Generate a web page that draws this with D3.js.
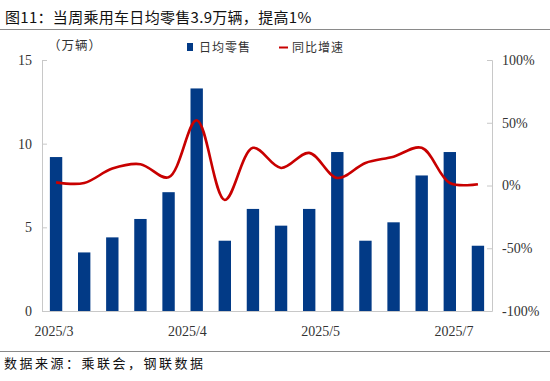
<!DOCTYPE html>
<html><head><meta charset="utf-8">
<script src="https://cdn.jsdelivr.net/npm/d3@7"></script>
<style>body{margin:0;background:#fff}svg{display:block}</style>
</head><body>
<svg id="c" width="550" height="381"></svg>
<script>
const categories = d3.range(1,17).map(i=>"W"+i);
const dailyRetail = [9.2,3.5,4.4,5.5,7.1,13.3,4.2,6.1,5.1,6.1,9.5,4.2,5.3,8.1,9.5,3.9];
const yoyGrowth = [2.5,2,13.5,17,6.5,52,-11.5,30,14,26,6,18,23,30,2,1];
const xTickLabels = ["2025/3","2025/4","2025/5","2025/7"];
const leftTicks = [0,5,10,15];
const rightTicks = [-100,-50,0,50,100];

const svg = d3.select("#c");
const L=42,R=492,T=60,B=311;
const serif = "'Liberation Serif','Times New Roman',serif";
const cjk = "'Noto Sans CJK SC','Noto Sans',sans-serif";

// title
svg.append("text").attr("x",5).attr("y",23).attr("font-family",cjk).attr("font-size",15)
  .attr("letter-spacing",0.3).attr("fill","#111").text("图11：当周乘用车日均零售3.9万辆，提高1%");
svg.append("line").attr("x1",0).attr("x2",550).attr("y1",29.5).attr("y2",29.5).attr("stroke","#8a8a8a").attr("stroke-width",1.2);
svg.append("line").attr("x1",0).attr("x2",550).attr("y1",351.5).attr("y2",351.5).attr("stroke","#8a8a8a").attr("stroke-width",1.2);
svg.append("text").attr("x",4).attr("y",368).attr("font-family",cjk).attr("font-size",13)
  .attr("letter-spacing",2.5).attr("fill","#111").text("数据来源：乘联会，钢联数据");

const x = d3.scaleBand().domain(categories).range([L,R]).paddingInner(0.56).paddingOuter(0.28);
const yL = d3.scaleLinear().domain([0,15]).range([B,T]);
const yR = d3.scaleLinear().domain([-100,100]).range([B,T]);

// axes
const gl = svg.append("g").attr("transform",`translate(${L},0)`)
  .call(d3.axisRight(yL).tickValues(leftTicks).tickSize(5).tickFormat(d3.format("d")));
gl.select(".domain").attr("stroke","#c8c8c8");
gl.selectAll(".tick line").attr("stroke","#c8c8c8");
gl.selectAll(".tick text").attr("x",-10).attr("text-anchor","end").attr("font-family",serif).attr("font-size",14).attr("fill","#333");

const gr = svg.append("g").attr("transform",`translate(${R},0)`)
  .call(d3.axisLeft(yR).tickValues(rightTicks).tickSize(5).tickFormat(d=>d+"%"));
gr.select(".domain").attr("stroke","#c8c8c8");
gr.selectAll(".tick line").attr("stroke","#c8c8c8");
gr.selectAll(".tick text").attr("x",10).attr("text-anchor","start").attr("font-family",serif).attr("font-size",14).attr("fill","#333");

svg.append("line").attr("x1",L).attr("x2",R).attr("y1",B+0.5).attr("y2",B+0.5).attr("stroke","#c8c8c8");

// x labels
const xl = d3.scalePoint().domain(xTickLabels).range([L+12,R-38]);
svg.append("g").selectAll("text").data(xTickLabels).join("text")
  .attr("x",d=>xl(d)).attr("y",336).attr("text-anchor","middle")
  .attr("font-family",serif).attr("font-size",14).attr("fill","#333").text(d=>d);

// bars
svg.append("g").selectAll("rect").data(dailyRetail).join("rect")
  .attr("x",(d,i)=>x(categories[i])).attr("width",x.bandwidth())
  .attr("y",d=>yL(d)).attr("height",d=>B-yL(d)).attr("fill","#023a86");

// line
const line = d3.line().x((d,i)=>x(categories[i])+x.bandwidth()/2).y(d=>yR(d)).curve(d3.curveCatmullRom.alpha(0.5));
svg.append("path").datum(yoyGrowth).attr("d",line).attr("fill","none").attr("stroke","#c80000").attr("stroke-width",2.6);

// legend
svg.append("text").attr("x",48).attr("y",50).attr("font-family",cjk).attr("font-size",12.5).attr("letter-spacing",1).attr("fill","#333").text("（万辆）");
svg.append("rect").attr("x",187).attr("y",43).attr("width",6).attr("height",8).attr("fill","#023a86");
svg.append("text").attr("x",199).attr("y",52).attr("font-family",cjk).attr("font-size",12).attr("letter-spacing",1).attr("fill","#333").text("日均零售");
svg.append("line").attr("x1",279).attr("x2",288).attr("y1",47.5).attr("y2",47.5).attr("stroke","#c80000").attr("stroke-width",2);
svg.append("text").attr("x",292).attr("y",52).attr("font-family",cjk).attr("font-size",12).attr("letter-spacing",1).attr("fill","#333").text("同比增速");
</script>
</body></html>
